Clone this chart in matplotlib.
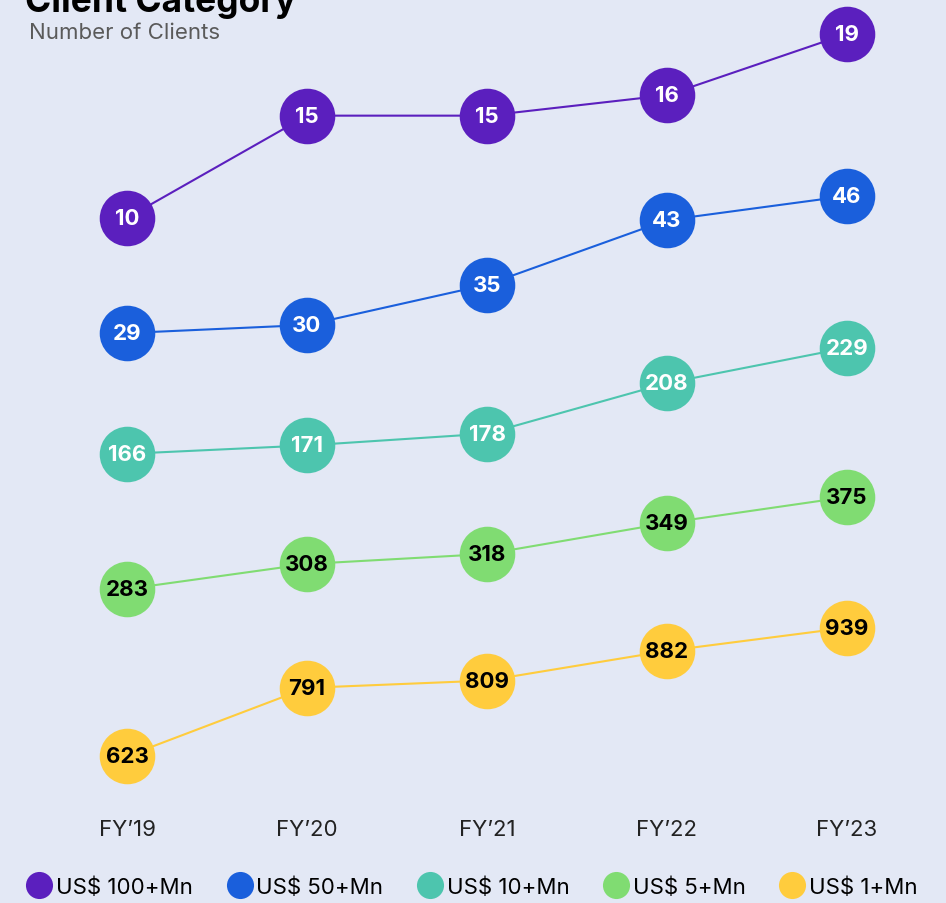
import matplotlib
matplotlib.use("Agg")
import matplotlib.pyplot as plt
from matplotlib.lines import Line2D

# ---- data ----
years = ["FY\u201919", "FY\u201920", "FY\u201921", "FY\u201922", "FY\u201923"]
series_names = ["US$ 100+Mn", "US$ 50+Mn", "US$ 10+Mn", "US$ 5+Mn", "US$ 1+Mn"]
clients_100 = [10, 15, 15, 16, 19]
clients_50 = [29, 30, 35, 43, 46]
clients_10 = [166, 171, 178, 208, 229]
clients_5 = [283, 308, 318, 349, 375]
clients_1 = [623, 791, 809, 882, 939]
all_series = [clients_100, clients_50, clients_10, clients_5, clients_1]

# ---- style ----
colors = ["#5B1FBE", "#1A5FDC", "#4DC5AE", "#80DC72", "#FFCC3D"]
text_colors = ["white", "white", "white", "black", "black"]
bg = "#E3E8F5"
W, H = 946, 904
# per-series band mapping: pixel_from_top = a - b * value
bands = [(423.4, 20.45), (568.0, 8.067), (734.4, 1.684), (873.0, 1.0), (1010.4, 0.4065)]
x0_px, dx_px = 127, 180

plt.rcParams["font.family"] = ["Inter", "DejaVu Sans"]
fig = plt.figure(figsize=(W / 100, H / 100), dpi=100)
fig.patch.set_facecolor(bg)

xlim = (-x0_px / dx_px, (W - x0_px) / dx_px)
xs = list(range(len(years)))

for vals, col, tcol, (a, b) in zip(all_series, colors, text_colors, bands):
    ax = fig.add_axes([0, 0, 1, 1])
    ax.set_xlim(*xlim)
    ax.set_ylim((a - H) / b, a / b)
    ax.axis("off")
    ax.patch.set_alpha(0)
    ax.plot(xs, vals, color=col, lw=1.5, zorder=1)
    ax.plot(xs, vals, "o", color=col, markersize=40, markeredgewidth=0, zorder=2)
    for x, v in zip(xs, vals):
        ax.text(x, v, str(v), ha="center", va="center", color=tcol,
                fontsize=16, fontweight="bold", zorder=3)

axl = fig.axes[0]
for x, lab in zip(xs, years):
    axl.text(x, 1 - 830 / H, lab, transform=axl.get_xaxis_transform(),
             ha="center", va="center", fontsize=16, color="#222222")

fig.text(25 / W, 1 - 12 / H, "Client Category", ha="left", va="baseline",
         fontsize=25.5, fontweight="bold", color="black")
fig.text(29 / W, 1 - 33 / H, "Number of Clients", ha="left", va="center",
         fontsize=16, fontweight="normal", color="#5a5a5a")

handles = [Line2D([], [], marker="o", linestyle="none", color=c, markersize=19.5,
                  markeredgewidth=0) for c in colors]
fig.legend(handles, series_names, loc="center", bbox_to_anchor=(0.5, 1 - 888 / H),
           ncol=5, frameon=False, fontsize=16, handletextpad=0.25,
           columnspacing=1.6, handlelength=1.0, borderaxespad=0)

fig.savefig("out.png", dpi=100, facecolor=bg)
